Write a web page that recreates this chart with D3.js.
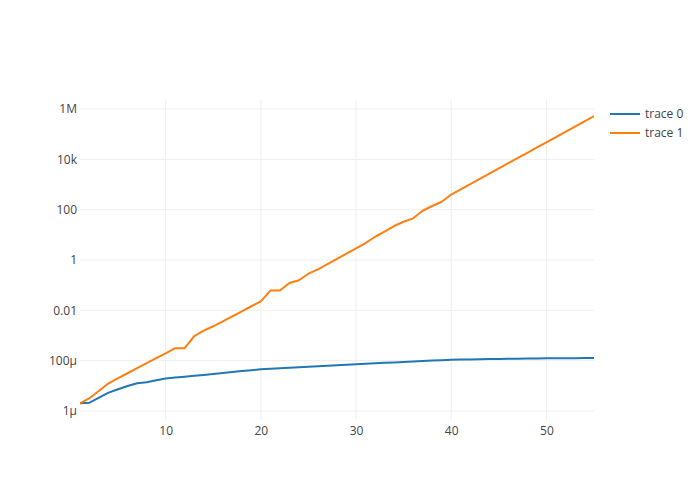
<!DOCTYPE html>
<html>
<head>
<meta charset="utf-8">
<script src="https://cdn.jsdelivr.net/npm/d3@7/dist/d3.min.js"></script>
<style>
  body { margin: 0; background: #fff; }
  svg { display: block; }
</style>
</head>
<body>
<svg id="chart" width="700" height="500"></svg>
<script>
const xValues = d3.range(1, 56);
const trace0 = [
  2.02e-6, 2.14e-6, 3.37e-6, 5.33e-6, 7.3e-6, 9.84e-6, 1.26e-5, 1.38e-5, 1.66e-5, 1.94e-5,
  2.12e-5, 2.29e-5, 2.48e-5, 2.69e-5, 2.95e-5, 3.24e-5, 3.54e-5, 3.88e-5, 4.18e-5, 4.54e-5,
  4.75e-5, 4.97e-5, 5.2e-5, 5.45e-5, 5.7e-5, 5.97e-5, 6.25e-5, 6.55e-5, 6.86e-5, 7.16e-5,
  7.5e-5, 7.78e-5, 8.15e-5, 8.45e-5, 8.85e-5, 9.27e-5, 9.62e-5, 1.005e-4, 1.04e-4, 1.09e-4,
  1.107e-4, 1.12e-4, 1.135e-4, 1.148e-4, 1.164e-4, 1.18e-4, 1.194e-4, 1.21e-4, 1.225e-4, 1.24e-4,
  1.245e-4, 1.25e-4, 1.255e-4, 1.26e-4, 1.26e-4
];
const trace1 = [
  2.02e-6, 3.2e-6, 6.4e-6, 1.26e-5, 2.0e-5, 3.15e-5, 5.0e-5, 7.9e-5, 1.25e-4, 1.96e-4,
  3.13e-4, 3.13e-4, 9.5e-4, 1.55e-3, 2.32e-3, 3.66e-3, 5.78e-3, 9.1e-3, 1.45e-2, 2.28e-2,
  6.1e-2, 6.1e-2, 0.122, 0.156, 0.285, 0.427, 0.69, 1.11, 1.79, 2.88,
  4.73, 8.4, 13.3, 22.4, 33.2, 45.3, 90.8, 140, 207, 399,
  643, 1045, 1680, 2700, 4390, 7060, 11380, 18300, 29700, 47800,
  76900, 125000, 201000, 324000, 525000
];
const seriesNames = ["trace 0", "trace 1"];
const seriesColors = ["#1f77b4", "#ff7f0e"];
const xTicks = [10, 20, 30, 40, 50];
const yTicks = [1e-6, 1e-4, 1e-2, 1, 100, 1e4, 1e6];
const yTickLabels = ["1μ", "100μ", "0.01", "1", "100", "10k", "1M"];

const svg = d3.select("#chart");
const font = "'Open Sans', sans-serif";
const pLeft = 80, pRight = 594, pTop = 100, pBottom = 420;

const x = d3.scaleLinear().domain([1, 55]).range([pLeft, pRight]);
const y = d3.scaleLog().domain([1e-6 / Math.pow(10, 0.36), 1e6 * Math.pow(10, 0.36)]).range([pBottom, pTop]);

// grid
const grid = svg.append("g");
grid.selectAll("line.xg").data(xTicks).enter().append("line")
  .attr("x1", d => x(d)).attr("x2", d => x(d))
  .attr("y1", pTop).attr("y2", pBottom)
  .attr("stroke", "#eee").attr("stroke-width", 1);
grid.selectAll("line.yg").data(yTicks).enter().append("line")
  .attr("x1", pLeft).attr("x2", pRight)
  .attr("y1", d => y(d)).attr("y2", d => y(d))
  .attr("stroke", "#eee").attr("stroke-width", 1);

// axes (labels only, like plotly)
const xAxis = d3.axisBottom(x).tickValues(xTicks).tickSize(0).tickPadding(6);
const gx = svg.append("g").attr("transform", `translate(0,${pBottom})`).call(xAxis);
gx.select(".domain").remove();
gx.selectAll("text").attr("font-family", font).attr("font-size", 12).attr("fill", "#444");

const yAxis = d3.axisLeft(y).tickValues(yTicks).tickSize(0).tickPadding(3)
  .tickFormat((d, i) => yTickLabels[i]);
const gy = svg.append("g").attr("transform", `translate(${pLeft},0)`).call(yAxis);
gy.select(".domain").remove();
gy.selectAll("text").attr("font-family", font).attr("font-size", 12).attr("fill", "#444");

// clip
svg.append("clipPath").attr("id", "clip").append("rect")
  .attr("x", pLeft).attr("y", pTop).attr("width", pRight - pLeft).attr("height", pBottom - pTop);

const line = d3.line().x((d, i) => x(xValues[i])).y(d => y(d));
[trace0, trace1].forEach((s, k) => {
  svg.append("path").datum(s)
    .attr("clip-path", "url(#clip)")
    .attr("d", line)
    .attr("fill", "none")
    .attr("stroke", seriesColors[k])
    .attr("stroke-width", 2)
    .attr("stroke-linejoin", "round");
});

// legend
const lg = svg.append("g").attr("transform", "translate(610,114)");
seriesNames.forEach((n, k) => {
  const g = lg.append("g").attr("transform", `translate(0,${k * 19})`);
  g.append("line").attr("x1", 0).attr("x2", 30).attr("y1", 0).attr("y2", 0)
    .attr("stroke", seriesColors[k]).attr("stroke-width", 2);
  g.append("text").attr("x", 35).attr("y", 0).attr("dy", "0.35em")
    .attr("font-family", font).attr("font-size", 12).attr("fill", "#444").text(n);
});
</script>
</body>
</html>
